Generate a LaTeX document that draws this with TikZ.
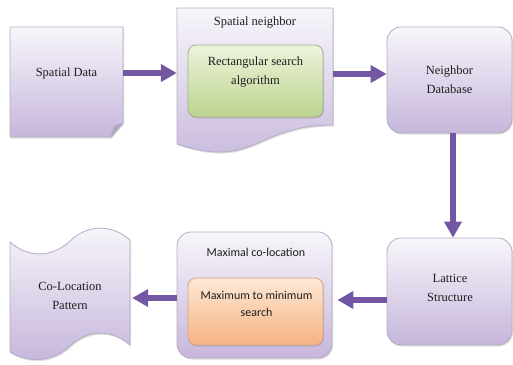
\documentclass[tikz,border=0pt]{standalone}
\usepackage{fontspec}
\setmainfont{Liberation Serif}
\newfontfamily\timesf{Liberation Serif}
\newfontfamily\calib{Carlito}
\usetikzlibrary{arrows.meta,shadows}
\definecolor{arrowpurple}{HTML}{7457A2}
\definecolor{boxtop}{HTML}{F8F6FB}
\definecolor{boxbot}{HTML}{C6B6DB}
\definecolor{boxline}{HTML}{B4ACC4}
\definecolor{greentop}{HTML}{EDF3DC}
\definecolor{greenbot}{HTML}{BCD48E}
\definecolor{greenline}{HTML}{A3AE92}
\definecolor{orangetop}{HTML}{FDE8D6}
\definecolor{orangebot}{HTML}{F6B381}
\definecolor{orangeline}{HTML}{D3A585}
\definecolor{textgray}{HTML}{1E1E1E}
\tikzset{
  purplebox/.style={top color=boxtop, bottom color=boxbot, draw=boxline, line width=0.8pt,
    drop shadow={opacity=0.25, shadow xshift=1pt, shadow yshift=-1.5pt}},
  greenbox/.style={top color=greentop, bottom color=greenbot, draw=greenline, line width=0.8pt,
    drop shadow={opacity=0.3, shadow xshift=1pt, shadow yshift=-1.5pt}},
  orangebox/.style={top color=orangetop, bottom color=orangebot, draw=orangeline, line width=0.8pt,
    drop shadow={opacity=0.3, shadow xshift=1pt, shadow yshift=-1.5pt}},
  serifbox/.style={align=center, font=\timesf\fontsize{12.5}{19}\selectfont, text=textgray, inner sep=0pt},
  sansbox/.style={align=center, font=\calib\fontsize{12}{17}\selectfont, text=textgray, inner sep=0pt},
  area/.style={draw=none, fill=none, inner sep=0pt},
  flowarrow/.style={draw=arrowpurple, line width=5.5pt,
    -{Triangle[length=16pt,width=17pt]}},
}
\begin{document}
\begin{tikzpicture}[x=1pt,y=-1pt]
\useasboundingbox (0,0) rectangle (513,364);

% --- Spatial Data (folded corner document)
\path[purplebox] (10,27) -- (123,27) -- (123,123) -- (111,137) -- (10,137) -- cycle;
\path[fill=boxbot!85!black!90, draw=boxline, line width=0.6pt] (123,123) -- (114,126) -- (111,137) -- cycle;
\node[area, minimum width=113pt, minimum height=110pt] (sd) at (66.5,82) {};
\node[serifbox] (sdt) at (66.5,73) {Spatial Data};

% --- Spatial neighbor (document with wavy bottom)
\path[purplebox] (177,8) -- (333,8) -- (333,125)
   .. controls (255,125) and (255,170) .. (177,144) -- cycle;
\node[area, minimum width=156pt, minimum height=134pt] (sn) at (255,75) {};
\node[serifbox] (snt) at (255,23) {Spatial neighbor};
\path[greenbox, rounded corners=8pt] (188,45) rectangle (323,117);
\node[serifbox] (rsa) at (255.5,72) {Rectangular search\\algorithm};

% --- Neighbor Database
\node[purplebox, rounded corners=14pt, minimum width=125pt, minimum height=106pt, inner sep=0pt] (nd) at (449.5,80) {};
\node[serifbox] at (nd.center) {Neighbor\\Database};

% --- Lattice Structure
\node[purplebox, rounded corners=14pt, minimum width=125pt, minimum height=107pt, inner sep=0pt] (ls) at (449.5,291.5) {};
\node[serifbox] at (450,288) {Lattice\\Structure};

% --- Maximal co-location
\node[purplebox, rounded corners=14pt, minimum width=155pt, minimum height=126pt, inner sep=0pt] (mc) at (254.5,295) {};
\node[sansbox] (mct) at (256,252) {Maximal co-location};
\node[orangebox, rounded corners=8pt, minimum width=135pt, minimum height=67pt, inner sep=0pt] (mm) at (255.5,311.5) {};
\node[sansbox] at (256.5,304) {Maximum to minimum\\search};

% --- Co-Location Pattern (punched tape)
\path[purplebox] (10,242)
   .. controls (28,258) and (52,258) .. (70,241)
   .. controls (88,224) and (112,224) .. (130,240)
   -- (130,345)
   .. controls (112,329) and (88,329) .. (70,346)
   .. controls (52,363) and (28,363) .. (10,352) -- cycle;
\node[area, minimum width=120pt, minimum height=110pt] (cp) at (70,297) {};
\node[serifbox] at (70,296) {Co-Location\\Pattern};

% --- connectors
\draw[flowarrow] (sd.east |- 0,73) -- (sn.west |- 0,73);
\draw[flowarrow] (sn.east |- 0,74) -- (nd.west |- 0,74);
\draw[flowarrow] (nd.south -| 453,0) -- (ls.north -| 453,0);
\draw[flowarrow, shorten >=5pt] (ls.west |- 0,300) -- (mc.east |- 0,300);
\draw[flowarrow, shorten >=2pt] (mc.west |- 0,298) -- (cp.east |- 0,298);
\end{tikzpicture}
\end{document}
